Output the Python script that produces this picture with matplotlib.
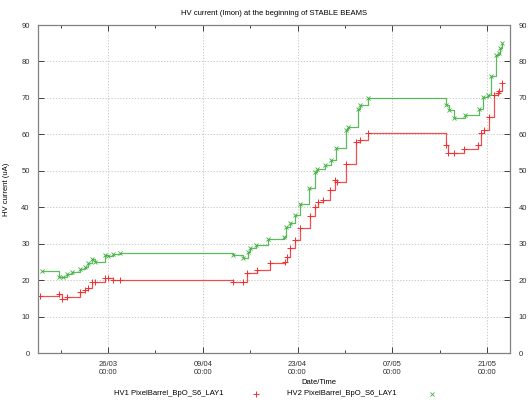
import matplotlib
matplotlib.use('Agg')
import matplotlib.pyplot as plt
import matplotlib.dates as mdates
import pandas as pd

plt.rcParams['font.family'] = ['Liberation Sans', 'DejaVu Sans']
plt.rcParams['font.size'] = 5.5

YEAR = '2012'

hv1_times = ['03-16 00:00', '03-18 18:30', '03-19 05:00', '03-19 23:00', '03-21 21:00',
             '03-22 15:00', '03-23 01:00', '03-23 15:00', '03-24 02:00', '03-25 13:30',
             '03-26 00:00', '03-26 18:00', '03-27 18:30', '04-13 10:30', '04-14 22:00',
             '04-15 12:00', '04-16 23:30', '04-18 21:20', '04-21 02:25', '04-21 09:35',
             '04-21 20:10', '04-22 13:55', '04-23 10:05', '04-24 19:00', '04-25 12:45',
             '04-25 23:15', '04-26 17:00', '04-27 17:45', '04-28 11:30', '04-28 18:45',
             '04-30 05:00', '05-01 16:20', '05-02 04:05', '05-03 08:25', '05-14 23:00',
             '05-15 04:30', '05-16 04:20', '05-17 15:40', '05-19 15:00', '05-20 03:00',
             '05-20 14:30', '05-21 08:10', '05-22 02:00', '05-22 13:40', '05-22 19:40',
             '05-23 05:15']
hv1_vals = [15.6, 16.2, 14.8, 15.5, 16.8, 17.3, 17.8, 19.6, 19.6, 20.5,
            20.5, 20.0, 20.0, 19.6, 19.6, 22.0, 22.8, 24.7, 25.0, 26.3,
            28.8, 31.0, 34.2, 37.6, 40.1, 41.5, 42.0, 44.7, 47.5, 47.0,
            52.0, 58.0, 58.5, 60.3, 57.0, 55.0, 55.0, 55.9, 57.0, 60.3,
            61.2, 64.8, 70.8, 71.4, 71.9, 74.0]

hv2_times = ['03-16 05:20', '03-18 18:30', '03-19 09:50', '03-19 21:50', '03-20 15:35',
             '03-21 21:00', '03-22 14:40', '03-23 02:10', '03-23 14:20', '03-24 02:00',
             '03-25 13:30', '03-26 01:00', '03-26 18:45', '03-27 18:30', '04-13 11:30',
             '04-14 23:00', '04-15 16:35', '04-15 22:35', '04-16 22:20', '04-18 15:25',
             '04-20 23:00', '04-21 08:35', '04-21 20:10', '04-22 13:55', '04-23 10:05',
             '04-24 16:35', '04-25 12:45', '04-25 20:50', '04-27 00:15', '04-27 23:45',
             '04-28 17:30', '04-30 05:00', '04-30 10:35', '05-01 22:05', '05-02 04:05',
             '05-03 09:20', '05-14 23:00', '05-15 08:10', '05-16 04:20', '05-17 19:10',
             '05-19 18:15', '05-20 08:25', '05-21 02:10', '05-21 14:10', '05-22 07:55',
             '05-22 17:00', '05-22 22:05', '05-23 03:50']
hv2_vals = [22.6, 21.0, 20.8, 21.7, 22.3, 23.0, 23.7, 24.6, 25.7, 25.1,
            26.9, 26.6, 27.3, 27.5, 26.9, 26.0, 27.8, 28.7, 29.6, 31.2,
            31.9, 34.7, 35.6, 37.9, 40.9, 45.2, 49.8, 50.4, 51.6, 53.0,
            56.2, 61.2, 62.1, 67.1, 68.0, 69.9, 68.0, 66.7, 64.4, 65.3,
            66.9, 70.2, 70.8, 75.9, 81.8, 82.3, 83.7, 85.1]

major_days = ['03-26', '04-09', '04-23', '05-07', '05-21']
minor_days = ['03-19', '04-02', '04-16', '04-30', '05-14']

t1 = pd.to_datetime([YEAR + '-' + s for s in hv1_times])
t2 = pd.to_datetime([YEAR + '-' + s for s in hv2_times])

fig = plt.figure(figsize=(5.28, 4.04), dpi=100)
ax = fig.add_axes([0.072, 0.126, 0.894, 0.812])

red = '#f03030'
green = '#40b040'
ax.step(t1, hv1_vals, where='post', color=red, lw=0.9, alpha=0.85)
ax.plot(t1, hv1_vals, ls='none', marker='+', ms=4, mew=0.7, color=red)
ax.step(t2, hv2_vals, where='post', color=green, lw=0.9, alpha=0.85)
ax.plot(t2, hv2_vals, ls='none', marker='x', ms=3, mew=0.6, color=green)

ax.set_xlim(pd.Timestamp(YEAR + '-03-15 15:40'), pd.Timestamp(YEAR + '-05-24 09:30'))
ax.set_ylim(0, 90)
ax.set_yticks(range(0, 91, 10))
ax.set_xticks(pd.to_datetime([YEAR + '-' + d for d in major_days]))
ax.set_xticks(pd.to_datetime([YEAR + '-' + d for d in minor_days]), minor=True)
ax.xaxis.set_major_formatter(mdates.DateFormatter('%d/%m\n%H:%M'))

ax.grid(True, ls=(0, (1.5, 2)), color='#c0c0c0', lw=0.6)
ax.tick_params(which='both', direction='in', top=True, right=True,
               labelright=True, colors='#404040', labelcolor='#303030', pad=6)
ax.tick_params(which='major', length=4, width=0.7)
ax.tick_params(which='minor', length=2.5, width=0.7)
for s in ax.spines.values():
    s.set_color('#808080')
    s.set_linewidth(0.9)

ax.set_title('HV current (Imon) at the beginning of STABLE BEAMS', fontsize=5.5, pad=7)
ax.set_ylabel('HV current (uA)', labelpad=8)
ax.set_xlabel('Date/Time')
ax.xaxis.set_label_coords(0.595, -0.08)

fig.text(0.215, 0.025, 'HV1 PixelBarrel_BpO_S6_LAY1', fontsize=5.5, va='center')
fig.text(0.543, 0.025, 'HV2 PixelBarrel_BpO_S6_LAY1', fontsize=5.5, va='center')
fig.lines.append(plt.Line2D([0.485], [0.025], transform=fig.transFigure, ls='none',
                            marker='+', ms=4, mew=0.7, color=red))
fig.lines.append(plt.Line2D([0.818], [0.025], transform=fig.transFigure, ls='none',
                            marker='x', ms=3, mew=0.6, color=green))

fig.savefig('out.png', dpi=100)
